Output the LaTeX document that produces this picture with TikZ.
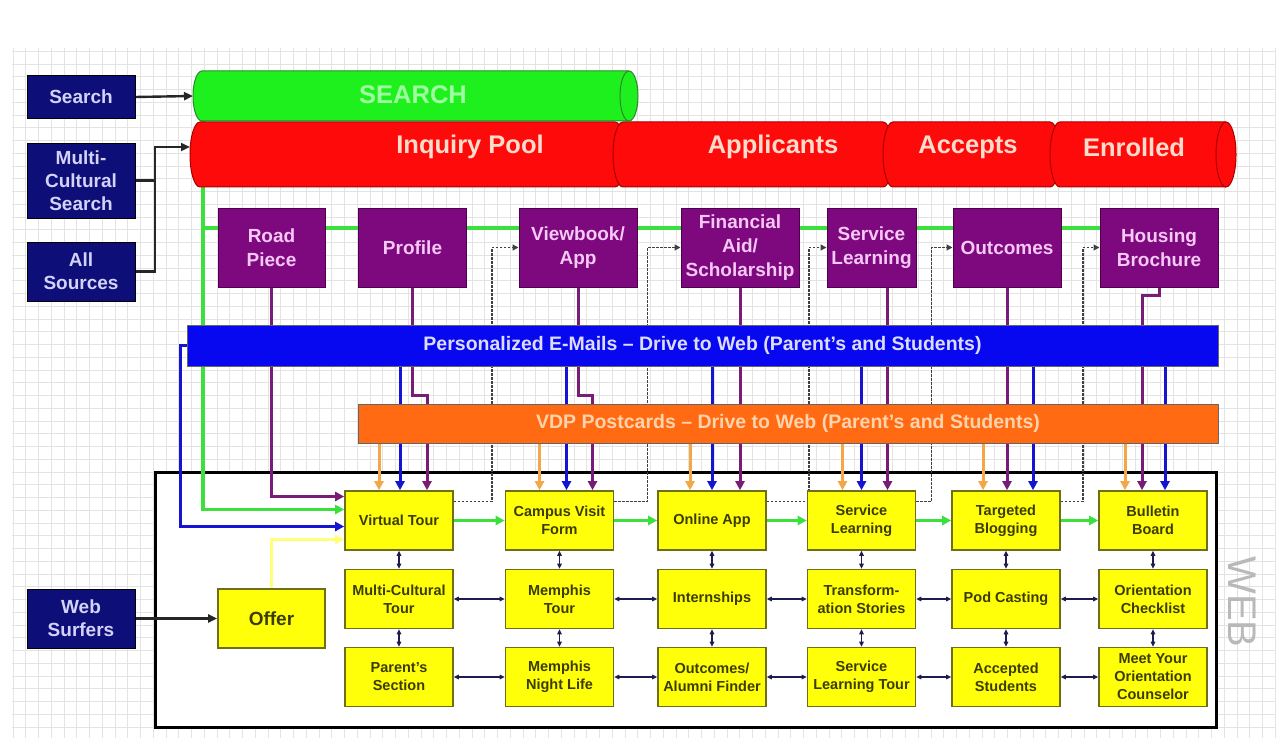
\documentclass[tikz,border=0pt]{standalone}
\usepackage{fontspec}
\setmainfont{Liberation Sans}
\usetikzlibrary{arrows.meta,backgrounds}

\definecolor{navyfill}{HTML}{0E0E78}
\definecolor{navytext}{HTML}{D2D2FA}
\definecolor{srchfill}{HTML}{1EF01E}
\definecolor{srchedge}{HTML}{2A8A2A}
\definecolor{srchtext}{HTML}{A0FFA0}
\definecolor{funfill}{HTML}{FF0A0A}
\definecolor{funedge}{HTML}{A80000}
\definecolor{funtext}{HTML}{FFDCCC}
\definecolor{purpfill}{HTML}{7E087E}
\definecolor{purpedge}{HTML}{4E004E}
\definecolor{purptext}{HTML}{F6C8F6}
\definecolor{mailfill}{HTML}{0808F0}
\definecolor{mailtext}{HTML}{DCDCFF}
\definecolor{vdpfill}{HTML}{FF6A12}
\definecolor{vdptext}{HTML}{FFD4AC}
\definecolor{yfill}{HTML}{FFFF0A}
\definecolor{yedge}{HTML}{6E6E14}
\definecolor{ytext}{HTML}{3C3C00}
\definecolor{plinecol}{HTML}{781C78}
\definecolor{blinecol}{HTML}{1414D2}
\definecolor{olinecol}{HTML}{F2A848}
\definecolor{glinecol}{HTML}{3CE03C}
\definecolor{ylinecol}{HTML}{FFFF78}
\definecolor{dblcol}{HTML}{1C1C50}

\begin{document}
\begin{tikzpicture}[x=1pt,y=-1pt,
  src/.style={draw=black,fill=navyfill,text=navytext,minimum width=108pt,inner sep=0pt,align=center,font=\bfseries\fontsize{19}{23}\selectfont},
  funcyl/.style={draw=funedge,line width=1pt,fill=funfill},
  funface/.style={draw=funedge,line width=1pt},
  srchcyl/.style={draw=srchedge,line width=1pt,fill=srchfill},
  cyltext/.style={inner sep=0pt,text=funtext,font=\bfseries\fontsize{25.5}{30}\selectfont},
  pbox/.style={draw=purpedge,line width=1pt,fill=purpfill,text=purptext,minimum height=79pt,inner sep=0pt,align=center,font=\bfseries\fontsize{19}{24}\selectfont},
  bar/.style={draw=black!60,line width=0.8pt,inner sep=0pt,font=\bfseries\fontsize{19.5}{23}\selectfont},
  ybox/.style={draw=yedge,line width=1.6pt,fill=yfill,text=ytext,minimum width=108pt,minimum height=59pt,inner sep=0pt,align=center,font=\bfseries\fontsize{14.5}{18}\selectfont},
  blk/.style={line width=2.4pt,draw=black!85,-{Triangle[length=9pt,width=8pt]}},
  blkplain/.style={line width=2.4pt,draw=black!85},
  pline/.style={line width=3pt,draw=plinecol,-{Triangle[length=9pt,width=9pt]}},
  bline/.style={line width=3pt,draw=blinecol,-{Triangle[length=9pt,width=9pt]}},
  oline/.style={line width=3pt,draw=olinecol,-{Triangle[length=9pt,width=9pt]}},
  gline/.style={line width=3.2pt,draw=glinecol,-{Triangle[length=9pt,width=9pt]}},
  gplain/.style={line width=3.2pt,draw=glinecol},
  yline/.style={line width=3pt,draw=ylinecol,-{Triangle[length=9pt,width=9pt]}},
  dline/.style={line width=1.4pt,draw=black!75,dash pattern=on 2.5pt off 1.5pt,-{Triangle[length=6pt,width=6pt]}},
  dbl/.style={line width=1.2pt,draw=dblcol,{Triangle[length=5pt,width=4.5pt]}-{Triangle[length=5pt,width=4.5pt]}},
  gridline/.style={draw=gray!22,line width=0.4pt}]

\useasboundingbox (0,0) rectangle (1276,738);
\begin{scope}[on background layer]
\draw[gridline] (12,738) grid[step=12.75pt] (1276,48);
\draw[line width=3pt,fill=white] (155,472) rectangle (1216,727);
\end{scope}

\node[src,minimum height=43pt] (search) at (81,97) {Search};
\node[src,minimum height=75pt] (mcs) at (81,180.5) {Multi-\\Cultural\\Search};
\node[src,minimum height=59pt] (alls) at (81,271.5) {All\\Sources};
\node[src,minimum height=59pt] (websurf) at (81,618.5) {Web\\Surfers};

% funnel
\filldraw[funcyl] (200,122) -- (615,122) arc[start angle=90,end angle=-90,x radius=10pt,y radius=32.5pt] -- (200,187) arc[start angle=270,end angle=90,x radius=10pt,y radius=32.5pt] -- cycle;
\filldraw[funcyl] (623,122) -- (883,122) arc[start angle=90,end angle=-90,x radius=10pt,y radius=32.5pt] -- (623,187) arc[start angle=270,end angle=90,x radius=10pt,y radius=32.5pt] -- cycle;
\filldraw[funcyl] (893,122) -- (1050,122) arc[start angle=90,end angle=-90,x radius=10pt,y radius=32.5pt] -- (893,187) arc[start angle=270,end angle=90,x radius=10pt,y radius=32.5pt] -- cycle;
\filldraw[funcyl] (1060,122) -- (1226,122) arc[start angle=90,end angle=-90,x radius=10pt,y radius=32.5pt] -- (1060,187) arc[start angle=270,end angle=90,x radius=10pt,y radius=32.5pt] -- cycle;
\draw[funface] (1226,122) arc[start angle=90,end angle=270,x radius=10pt,y radius=32.5pt];
\filldraw[srchcyl] (202,71) -- (629,71) arc[start angle=90,end angle=-90,x radius=9pt,y radius=25pt] -- (202,121) arc[start angle=270,end angle=90,x radius=9pt,y radius=25pt] -- cycle;
\draw[srchcyl,fill=none] (629,71) arc[start angle=90,end angle=270,x radius=9pt,y radius=25pt];

\node[cyltext,text=srchtext] (srchlbl) at (413,95) {SEARCH};
\node[cyltext] (inqlbl) at (470,147) {Inquiry Pool};
\node[cyltext] (appllbl) at (773,147) {Applicants};
\node[cyltext] (acclbl) at (968,147) {Accepts};
\node[cyltext] (enrlbl) at (1134,147) {Enrolled};
\coordinate (srchw) at (193,96);
\coordinate (inqw) at (190,147);
\coordinate (gdrop) at (203,121);

\node[pbox,minimum width=107pt] (road) at (271.5,247.5) {Road\\Piece};
\node[pbox,minimum width=108pt] (prof) at (412.5,247.5) {Profile};
\node[pbox,minimum width=118pt] (vb) at (578,247.5) {Viewbook/\\App};
\node[pbox,minimum width=118pt] (fin) at (740,247.5) {Financial\\Aid/\\Scholarship};
\node[pbox,minimum width=89pt] (svl) at (871.5,247.5) {Service\\Learning};
\node[pbox,minimum width=108pt] (outc) at (1007,247.5) {Outcomes};
\node[pbox,minimum width=118pt] (hous) at (1159,247.5) {Housing\\Brochure};
\coordinate (gmid) at ([yshift=19.5pt]hous.west);

\node[bar,fill=mailfill,text=mailtext,minimum width=1031pt,minimum height=41pt] (mail) at (702.5,345.5) {Personalized E-Mails – Drive to Web (Parent's and Students)};
\node[bar,fill=vdpfill,text=vdptext,minimum width=860pt,minimum height=39pt] (vdp) at (788,423.5) {VDP Postcards – Drive to Web (Parent's and Students)};

\node[ybox] (vt) at (399,520.5) {Virtual Tour};
\node[ybox] (cvf) at (559.5,520.5) {Campus Visit\\Form};
\node[ybox] (oa) at (712,520.5) {Online App};
\node[ybox] (slw) at (861.5,520.5) {Service\\Learning};
\node[ybox] (tb) at (1006,520.5) {Targeted\\Blogging};
\node[ybox] (bb) at (1153,520.5) {Bulletin\\Board};
\node[ybox] (mct) at (399,599) {Multi-Cultural\\Tour};
\node[ybox] (mtr) at (559.5,599) {Memphis\\Tour};
\node[ybox] (intern) at (712,599) {Internships};
\node[ybox] (trans) at (861.5,599) {Transform-\\ation Stories};
\node[ybox] (pod) at (1006,599) {Pod Casting};
\node[ybox] (ochk) at (1153,599) {Orientation\\Checklist};
\node[ybox] (pars) at (399,677) {Parent's\\Section};
\node[ybox] (mnl) at (559.5,677) {Memphis\\Night Life};
\node[ybox] (alum) at (712,677) {Outcomes/\\Alumni Finder};
\node[ybox] (slt) at (861.5,677) {Service\\Learning Tour};
\node[ybox] (accs) at (1006,677) {Accepted\\Students};
\node[ybox] (meet) at (1153,677) {Meet Your\\Orientation\\Counselor};
\node[ybox,minimum width=107pt,font=\bfseries\fontsize{19}{23}\selectfont] (offer) at (271.5,618.5) {Offer};

\node[rotate=-90,text=gray!55,font=\fontsize{40}{40}\selectfont,inner sep=0pt] (weblbl) at (1242,602) {WEB};

\begin{scope}[on background layer]
\draw[blk] (search.east) -- (srchw);
\draw[blk] (mcs.east) -- ++(20,0) |- (inqw);
\draw[blkplain] (alls.east) -| ([xshift=20pt]mcs.east);
\draw[blk] (websurf.east) -- (offer.west);

\draw[gplain] (gdrop |- gmid) -- (gmid);
\draw[gline] (gdrop) |- ([yshift=11pt]vt.west);
\draw[pline] (road.south) |- ([yshift=24pt]vt.west);
\draw[bline] (mail.west) -- ++(-6,0) |- ([yshift=-6pt]vt.west);
\draw[yline] (offer.north) |- ([yshift=-19pt]vt.west);

\draw[dline] ([yshift=19pt]vt.east) -- ++(38,0) |- (vb.west);
\draw[dline] ([yshift=19pt]cvf.east) -- ++(33,0) |- (fin.west);
\draw[dline] ([yshift=19pt]oa.east) -- ++(42,0) |- (svl.west);
\draw[dline] ([yshift=19pt]slw.east) -- ++(15,0) |- (outc.west);
\draw[dline] ([yshift=19pt]tb.east) -- ++(22,0) |- (hous.west);

\draw[oline] ([xshift=-20pt]vt.north |- vdp.south) -- ([xshift=-20pt]vt.north);
\draw[bline] ([xshift=1pt]vt.north |- mail.south) -- ([xshift=1pt]vt.north);
\draw[pline] (prof.south) -- ++(0,108) -| ([xshift=28pt]vt.north);
\draw[oline] ([xshift=-20pt]cvf.north |- vdp.south) -- ([xshift=-20pt]cvf.north);
\draw[bline] ([xshift=7pt]cvf.north |- mail.south) -- ([xshift=7pt]cvf.north);
\draw[pline] (vb.south) -- ++(0,108) -| ([xshift=33pt]cvf.north);
\draw[oline] ([xshift=-22pt]oa.north |- vdp.south) -- ([xshift=-22pt]oa.north);
\draw[bline] (oa.north |- mail.south) -- (oa.north);
\draw[pline] (fin.south) -- (fin.south |- oa.north);
\draw[oline] ([xshift=-19pt]slw.north |- vdp.south) -- ([xshift=-19pt]slw.north);
\draw[bline] (slw.north |- mail.south) -- (slw.north);
\draw[pline] ([xshift=16pt]svl.south) -- ([xshift=16pt]svl.south |- slw.north);
\draw[oline] ([xshift=-23pt]tb.north |- vdp.south) -- ([xshift=-23pt]tb.north);
\draw[pline] (outc.south) -- (outc.south |- tb.north);
\draw[bline] ([xshift=27pt]tb.north |- mail.south) -- ([xshift=27pt]tb.north);
\draw[oline] ([xshift=-28pt]bb.north |- vdp.south) -- ([xshift=-28pt]bb.north);
\draw[pline] (hous.south) -- ++(0,8) -| ([xshift=-11pt]bb.north);
\draw[bline] ([xshift=12pt]bb.north |- mail.south) -- ([xshift=12pt]bb.north);

\draw[gline] (vt.east) -- (cvf.west);
\draw[gline] (cvf.east) -- (oa.west);
\draw[gline] (oa.east) -- (slw.west);
\draw[gline] (slw.east) -- (tb.west);
\draw[gline] (tb.east) -- (bb.west);

\draw[dbl] (vt.south) -- (mct.north);
\draw[dbl] (cvf.south) -- (mtr.north);
\draw[dbl] (oa.south) -- (intern.north);
\draw[dbl] (slw.south) -- (trans.north);
\draw[dbl] (tb.south) -- (pod.north);
\draw[dbl] (bb.south) -- (ochk.north);
\draw[dbl] (mct.south) -- (pars.north);
\draw[dbl] (mtr.south) -- (mnl.north);
\draw[dbl] (intern.south) -- (alum.north);
\draw[dbl] (trans.south) -- (slt.north);
\draw[dbl] (pod.south) -- (accs.north);
\draw[dbl] (ochk.south) -- (meet.north);
\draw[dbl] (mct.east) -- (mtr.west);
\draw[dbl] (mtr.east) -- (intern.west);
\draw[dbl] (intern.east) -- (trans.west);
\draw[dbl] (trans.east) -- (pod.west);
\draw[dbl] (pod.east) -- (ochk.west);
\draw[dbl] (pars.east) -- (mnl.west);
\draw[dbl] (mnl.east) -- (alum.west);
\draw[dbl] (alum.east) -- (slt.west);
\draw[dbl] (slt.east) -- (accs.west);
\draw[dbl] (accs.east) -- (meet.west);
\end{scope}
\end{tikzpicture}
\end{document}
